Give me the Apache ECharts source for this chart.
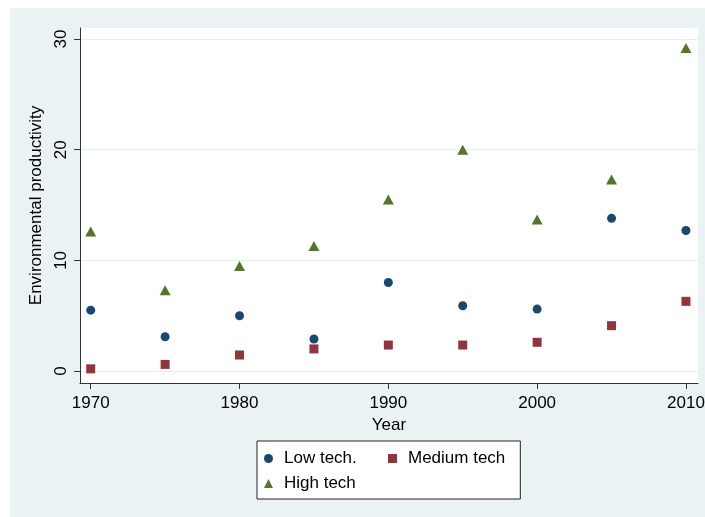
<!DOCTYPE html>
<html>
<head>
<meta charset="utf-8">
<script src="https://cdn.jsdelivr.net/npm/echarts@6/dist/echarts.min.js"></script>
<style>
  html, body { margin: 0; padding: 0; background: #ffffff; }
  #chart { position: absolute; left: 10px; top: 8px; width: 695px; height: 509px; }
</style>
</head>
<body>
<div id="chart"></div>
<script>
var years = [1970, 1975, 1980, 1985, 1990, 1995, 2000, 2005, 2010];
var lowTech = [5.5, 3.1, 5.0, 2.9, 8.0, 5.9, 5.6, 13.8, 12.7];
var mediumTech = [0.2, 0.6, 1.45, 2.0, 2.35, 2.35, 2.6, 4.1, 6.3];
var highTech = [12.6, 7.3, 9.5, 11.3, 15.5, 20.0, 13.7, 17.3, 29.2];
var xTicks = [1970, 1980, 1990, 2000, 2010];
var yTicks = [0, 10, 20, 30];

var FONT = "'Liberation Sans', Arial, sans-serif";

var pairs = function(vals){
    var out = [];
    for (var i = 0; i < years.length; i++) {
        out.push([years[i], vals[i]]);
    }
    return out;
};

var option = {
    backgroundColor: '#EAF2F3',
    animation: false,
    textStyle: { fontFamily: FONT },
    grid: {
        left: 70, right: 7, top: 20, bottom: 134,
        outerBoundsMode: 'none',
        containLabel: false,
        show: true, backgroundColor: '#ffffff', borderWidth: 0
    },
    xAxis: {
        type: 'value',
        min: 1969.28, max: 2010.81,
        name: 'Year',
        nameLocation: 'middle',
        nameGap: 30,
        nameTextStyle: { fontSize: 17, color: '#000', fontFamily: FONT },
        axisLine: { show: true, onZero: false, lineStyle: { color: '#333', width: 1 } },
        axisTick: { show: true, length: 6, customValues: xTicks, lineStyle: { color: '#333' } },
        axisLabel: {
            customValues: xTicks, margin: 12, fontSize: 17, color: '#000', fontFamily: FONT,
            formatter: function(v){ return String(v); }
        },
        splitLine: { show: false }
    },
    yAxis: {
        type: 'value',
        min: -1.08, max: 31,
        name: 'Environmental productivity',
        nameLocation: 'middle',
        nameRotate: 90,
        nameGap: 26,
        nameTextStyle: { fontSize: 17, color: '#000', fontFamily: FONT },
        axisLine: { show: true, onZero: false, lineStyle: { color: '#333', width: 1 } },
        axisTick: { show: true, length: 6, customValues: yTicks, lineStyle: { color: '#333' } },
        axisLabel: { customValues: yTicks, rotate: 90, margin: 10, fontSize: 17, color: '#000', fontFamily: FONT },
        splitLine: { show: true, lineStyle: { color: '#E6EEF0', width: 1 } }
    },
    legend: {
        left: 247, top: 433,
        width: 242,
        padding: [9, 15, 7, 7],
        itemGap: 8,
        itemWidth: 9, itemHeight: 9,
        backgroundColor: '#ffffff',
        borderColor: '#222',
        borderWidth: 1,
        borderRadius: 0,
        textStyle: {
            fontSize: 17, color: '#000', fontFamily: FONT,
            width: 96, lineHeight: 16, padding: [0, 0, 0, 6]
        },
        data: ['Low tech.', 'Medium tech', 'High tech']
    },
    series: [
        {
            name: 'Low tech.', type: 'scatter', symbol: 'circle', symbolSize: 9,
            itemStyle: { color: '#1A476F', opacity: 1 },
            data: pairs(lowTech)
        },
        {
            name: 'Medium tech', type: 'scatter', symbol: 'rect', symbolSize: 9,
            itemStyle: { color: '#90353B', opacity: 1 },
            data: pairs(mediumTech)
        },
        {
            name: 'High tech', type: 'scatter', symbol: 'triangle', symbolSize: [11, 10],
            itemStyle: { color: '#55752F', opacity: 1 },
            data: pairs(highTech)
        }
    ]
};

var myChart = echarts.init(document.getElementById('chart'));
myChart.setOption(option);
</script>
</body>
</html>
